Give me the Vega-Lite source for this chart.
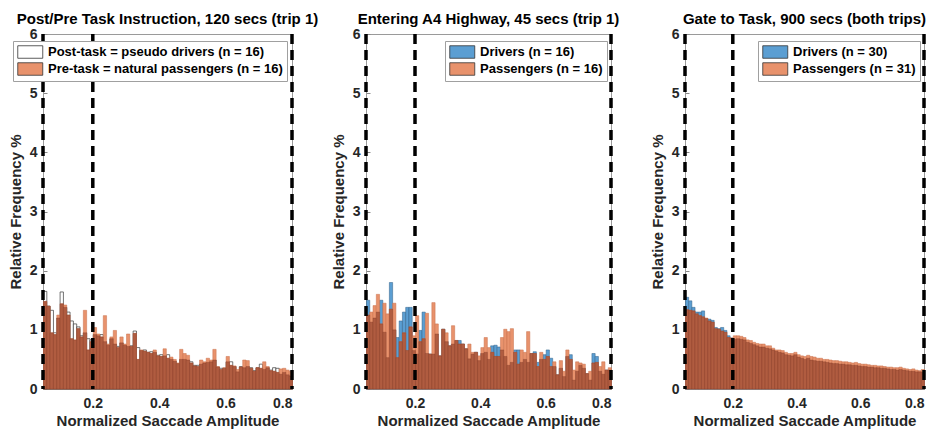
{
  "$schema": "https://vega.github.io/schema/vega-lite/v6.json",
  "background": "white",
  "padding": {"left": 7, "top": 11, "right": 0, "bottom": 0},
  "bounds": "flush",
  "spacing": 74,
  "config": {
    "font": "Liberation Sans",
    "view": {"stroke": "#9a9a9a", "strokeWidth": 1},
    "axis": {
      "labelFont": "Liberation Sans", "labelFontWeight": "bold", "labelFontSize": 14, "labelColor": "#262626",
      "titleFont": "Liberation Sans", "titleFontWeight": "bold", "titleFontSize": 15, "titleColor": "#262626",
      "domainColor": "#9a9a9a", "tickColor": "#8a8a8a", "tickSize": -4, "grid": false
    },
    "title": {"font": "Liberation Sans", "fontSize": 15, "fontWeight": "bold", "color": "#000000", "anchor": "middle", "offset": 6, "dy": 6},
    "legend": {
      "orient": "none", "title": null,
      "symbolType": "M-1,-1H3V1H-1Z", "symbolSize": 156.25,
      "symbolStrokeColor": "#333333", "symbolStrokeWidth": 0.8,
      "labelFont": "Liberation Sans", "labelFontSize": 13, "labelFontWeight": "bold", "labelColor": "#000000", "labelLimit": 400,
      "strokeColor": "#a0a0a0", "fillColor": "white", "padding": 4, "rowPadding": 1, "labelOffset": 17
    }
  },
  "resolve": {"scale": {"color": "independent"}, "legend": {"color": "independent"}},
  "datasets": {
    "p1": [
      {"x":0.05,"a":1.65,"b":1.48},{"x":0.06,"a":1.40,"b":1.40},{"x":0.07,"a":1.33,"b":0.95},{"x":0.08,"a":0.95,"b":0.92},{"x":0.09,"a":1.20,"b":1.25},
      {"x":0.10,"a":1.64,"b":1.44},{"x":0.11,"a":1.38,"b":1.42},{"x":0.12,"a":1.30,"b":1.25},{"x":0.13,"a":1.15,"b":0.85},{"x":0.14,"a":1.10,"b":0.83},
      {"x":0.15,"a":1.05,"b":1.02},{"x":0.16,"a":0.90,"b":0.88},{"x":0.17,"a":0.95,"b":1.33},{"x":0.18,"a":0.85,"b":0.66},{"x":0.19,"a":0.83,"b":0.80},
      {"x":0.20,"a":0.92,"b":1.04},{"x":0.21,"a":0.90,"b":0.93},{"x":0.22,"a":0.92,"b":0.88},{"x":0.23,"a":0.80,"b":1.24},{"x":0.24,"a":0.74,"b":0.76},
      {"x":0.25,"a":0.85,"b":0.88},{"x":0.26,"a":0.76,"b":0.99},{"x":0.27,"a":0.72,"b":0.70},{"x":0.28,"a":0.78,"b":0.88},{"x":0.29,"a":0.74,"b":0.76},
      {"x":0.30,"a":0.72,"b":0.93},{"x":0.31,"a":0.73,"b":0.72},{"x":0.32,"a":0.98,"b":0.94},{"x":0.33,"a":0.70,"b":0.50},{"x":0.34,"a":0.65,"b":0.66},
      {"x":0.35,"a":0.66,"b":0.64},{"x":0.36,"a":0.62,"b":0.62},{"x":0.37,"a":0.63,"b":0.60},{"x":0.38,"a":0.62,"b":0.66},{"x":0.39,"a":0.57,"b":0.56},
      {"x":0.40,"a":0.58,"b":0.55},{"x":0.41,"a":0.56,"b":0.68},{"x":0.42,"a":0.58,"b":0.52},{"x":0.43,"a":0.50,"b":0.54},{"x":0.44,"a":0.47,"b":0.50},
      {"x":0.45,"a":0.43,"b":0.44},{"x":0.46,"a":0.50,"b":0.67},{"x":0.47,"a":0.50,"b":0.60},{"x":0.48,"a":0.49,"b":0.57},{"x":0.49,"a":0.46,"b":0.44},
      {"x":0.50,"a":0.40,"b":0.39},{"x":0.51,"a":0.40,"b":0.38},{"x":0.52,"a":0.42,"b":0.49},{"x":0.53,"a":0.44,"b":0.46},{"x":0.54,"a":0.45,"b":0.52},
      {"x":0.55,"a":0.46,"b":0.49},{"x":0.56,"a":0.49,"b":0.67},{"x":0.57,"a":0.37,"b":0.38},{"x":0.58,"a":0.35,"b":0.33},{"x":0.59,"a":0.35,"b":0.36},
      {"x":0.60,"a":0.46,"b":0.55},{"x":0.61,"a":0.46,"b":0.40},{"x":0.62,"a":0.38,"b":0.39},{"x":0.63,"a":0.29,"b":0.33},{"x":0.64,"a":0.38,"b":0.37},
      {"x":0.65,"a":0.36,"b":0.49},{"x":0.66,"a":0.38,"b":0.48},{"x":0.67,"a":0.36,"b":0.35},{"x":0.68,"a":0.31,"b":0.30},{"x":0.69,"a":0.36,"b":0.36},
      {"x":0.70,"a":0.42,"b":0.35},{"x":0.71,"a":0.33,"b":0.46},{"x":0.72,"a":0.36,"b":0.38},{"x":0.73,"a":0.32,"b":0.31},{"x":0.74,"a":0.36,"b":0.30},
      {"x":0.75,"a":0.35,"b":0.28},{"x":0.76,"a":0.25,"b":0.34},{"x":0.77,"a":0.28,"b":0.35},{"x":0.78,"a":0.24,"b":0.32},{"x":0.79,"a":0.22,"b":0.30}
    ],
    "p2": [
      {"x":0.05,"a":1.50,"b":1.25},{"x":0.06,"a":1.13,"b":1.30},{"x":0.07,"a":1.20,"b":1.41},{"x":0.08,"a":1.30,"b":1.60},{"x":0.09,"a":1.50,"b":1.10},
      {"x":0.10,"a":0.96,"b":1.45},{"x":0.11,"a":0.53,"b":1.27},{"x":0.12,"a":1.80,"b":1.35},{"x":0.13,"a":1.00,"b":1.45},{"x":0.14,"a":0.87,"b":0.53},
      {"x":0.15,"a":1.15,"b":0.80},{"x":0.16,"a":1.30,"b":0.95},{"x":0.17,"a":1.38,"b":0.65},{"x":0.18,"a":1.38,"b":1.05},{"x":0.19,"a":0.65,"b":0.90},
      {"x":0.20,"a":0.59,"b":1.24},{"x":0.21,"a":0.99,"b":0.80},{"x":0.22,"a":1.30,"b":0.85},{"x":0.23,"a":0.60,"b":1.28},{"x":0.24,"a":0.59,"b":0.59},
      {"x":0.25,"a":0.59,"b":1.46},{"x":0.26,"a":0.93,"b":1.10},{"x":0.27,"a":0.56,"b":0.56},{"x":0.28,"a":1.01,"b":1.01},{"x":0.29,"a":0.80,"b":0.95},
      {"x":0.30,"a":0.73,"b":0.73},{"x":0.31,"a":0.76,"b":1.07},{"x":0.32,"a":0.82,"b":0.82},{"x":0.33,"a":0.82,"b":0.76},{"x":0.34,"a":0.76,"b":0.76},
      {"x":0.35,"a":0.68,"b":0.68},{"x":0.36,"a":0.51,"b":0.76},{"x":0.37,"a":0.59,"b":0.62},{"x":0.38,"a":0.62,"b":0.62},{"x":0.39,"a":0.48,"b":0.56},
      {"x":0.40,"a":0.60,"b":0.70},{"x":0.41,"a":0.62,"b":0.87},{"x":0.42,"a":0.50,"b":0.70},{"x":0.43,"a":0.73,"b":0.62},{"x":0.44,"a":0.74,"b":0.55},
      {"x":0.45,"a":0.71,"b":0.55},{"x":0.46,"a":0.66,"b":0.87},{"x":0.47,"a":0.55,"b":1.01},{"x":0.48,"a":0.40,"b":0.97},{"x":0.49,"a":0.45,"b":1.02},
      {"x":0.50,"a":0.66,"b":0.62},{"x":0.51,"a":0.66,"b":0.42},{"x":0.52,"a":0.45,"b":0.66},{"x":0.53,"a":0.50,"b":0.62},{"x":0.54,"a":0.45,"b":0.97},
      {"x":0.55,"a":0.60,"b":0.60},{"x":0.56,"a":0.63,"b":0.60},{"x":0.57,"a":0.45,"b":0.38},{"x":0.58,"a":0.50,"b":0.62},{"x":0.59,"a":0.58,"b":0.50},
      {"x":0.60,"a":0.66,"b":0.55},{"x":0.61,"a":0.52,"b":0.38},{"x":0.62,"a":0.38,"b":0.46},{"x":0.63,"a":0.24,"b":0.24},{"x":0.64,"a":0.35,"b":0.48},
      {"x":0.65,"a":0.21,"b":0.30},{"x":0.66,"a":0.55,"b":0.66},{"x":0.67,"a":0.58,"b":0.50},{"x":0.68,"a":0.15,"b":0.32},{"x":0.69,"a":0.30,"b":0.46},
      {"x":0.70,"a":0.40,"b":0.44},{"x":0.71,"a":0.35,"b":0.42},{"x":0.72,"a":0.26,"b":0.26},{"x":0.73,"a":0.15,"b":0.30},{"x":0.74,"a":0.60,"b":0.44},
      {"x":0.75,"a":0.55,"b":0.45},{"x":0.76,"a":0.30,"b":0.38},{"x":0.77,"a":0.25,"b":0.46},{"x":0.78,"a":0.32,"b":0.32},{"x":0.79,"a":0.32,"b":0.36}
    ],
    "p3": [
      {"x":0.05,"a":1.55,"b":1.34},{"x":0.06,"a":1.49,"b":1.33},{"x":0.07,"a":1.38,"b":1.32},{"x":0.08,"a":1.30,"b":1.27},{"x":0.09,"a":1.30,"b":1.24},
      {"x":0.10,"a":1.32,"b":1.22},{"x":0.11,"a":1.19,"b":1.20},{"x":0.12,"a":1.18,"b":1.15},{"x":0.13,"a":1.16,"b":1.13},{"x":0.14,"a":1.04,"b":1.02},
      {"x":0.15,"a":1.02,"b":1.01},{"x":0.16,"a":1.04,"b":0.98},{"x":0.17,"a":0.99,"b":0.96},{"x":0.18,"a":0.90,"b":0.87},{"x":0.19,"a":0.86,"b":0.86},
      {"x":0.20,"a":0.84,"b":0.90},{"x":0.21,"a":0.85,"b":0.90},{"x":0.22,"a":0.84,"b":0.89},{"x":0.23,"a":0.83,"b":0.87},{"x":0.24,"a":0.79,"b":0.83},
      {"x":0.25,"a":0.77,"b":0.82},{"x":0.26,"a":0.75,"b":0.79},{"x":0.27,"a":0.73,"b":0.77},{"x":0.28,"a":0.71,"b":0.76},{"x":0.29,"a":0.71,"b":0.76},
      {"x":0.30,"a":0.69,"b":0.73},{"x":0.31,"a":0.68,"b":0.73},{"x":0.32,"a":0.66,"b":0.69},{"x":0.33,"a":0.64,"b":0.66},{"x":0.34,"a":0.62,"b":0.66},
      {"x":0.35,"a":0.61,"b":0.65},{"x":0.36,"a":0.58,"b":0.62},{"x":0.37,"a":0.57,"b":0.60},{"x":0.38,"a":0.56,"b":0.60},{"x":0.39,"a":0.58,"b":0.62},
      {"x":0.40,"a":0.54,"b":0.58},{"x":0.41,"a":0.52,"b":0.56},{"x":0.42,"a":0.50,"b":0.55},{"x":0.43,"a":0.52,"b":0.57},{"x":0.44,"a":0.49,"b":0.55},
      {"x":0.45,"a":0.48,"b":0.54},{"x":0.46,"a":0.47,"b":0.52},{"x":0.47,"a":0.47,"b":0.52},{"x":0.48,"a":0.46,"b":0.50},{"x":0.49,"a":0.45,"b":0.50},
      {"x":0.50,"a":0.44,"b":0.49},{"x":0.51,"a":0.43,"b":0.48},{"x":0.52,"a":0.43,"b":0.48},{"x":0.53,"a":0.42,"b":0.47},{"x":0.54,"a":0.42,"b":0.46},
      {"x":0.55,"a":0.41,"b":0.46},{"x":0.56,"a":0.41,"b":0.45},{"x":0.57,"a":0.40,"b":0.44},{"x":0.58,"a":0.40,"b":0.45},{"x":0.59,"a":0.39,"b":0.43},
      {"x":0.60,"a":0.38,"b":0.42},{"x":0.61,"a":0.38,"b":0.42},{"x":0.62,"a":0.37,"b":0.41},{"x":0.63,"a":0.37,"b":0.40},{"x":0.64,"a":0.36,"b":0.40},
      {"x":0.65,"a":0.36,"b":0.39},{"x":0.66,"a":0.35,"b":0.39},{"x":0.67,"a":0.35,"b":0.38},{"x":0.68,"a":0.34,"b":0.37},{"x":0.69,"a":0.33,"b":0.37},
      {"x":0.70,"a":0.33,"b":0.36},{"x":0.71,"a":0.32,"b":0.36},{"x":0.72,"a":0.33,"b":0.37},{"x":0.73,"a":0.32,"b":0.35},{"x":0.74,"a":0.31,"b":0.34},
      {"x":0.75,"a":0.30,"b":0.33},{"x":0.76,"a":0.30,"b":0.34},{"x":0.77,"a":0.29,"b":0.32},{"x":0.78,"a":0.29,"b":0.31},{"x":0.79,"a":0.28,"b":0.33}
    ]
  },
  "hconcat": [
    {
      "width": 249, "height": 355,
      "title": "Post/Pre Task Instruction, 120 secs (trip 1)",
      "data": {"name": "p1"},
      "encoding": {
        "x": {"field": "x", "type": "quantitative", "bin": {"binned": true, "step": 0.01}, "title": "Normalized Saccade Amplitude",
              "scale": {"domain": [0.05, 0.8], "nice": false, "zero": false},
              "axis": {"values": [0.2, 0.4, 0.6, 0.8], "format": ".1f", "labelPadding": 11, "titlePadding": 3}}
      },
      "layer": [
        {"mark": {"type": "bar", "binSpacing": 0, "stroke": "#3a3a3a", "strokeWidth": 0.7},
         "encoding": {
           "y": {"field": "a", "type": "quantitative", "title": "Relative Frequency %", "scale": {"domain": [0, 6], "nice": false},
                 "axis": {"values": [0, 1, 2, 3, 4, 5, 6], "format": "d", "labelPadding": 10, "titlePadding": 6}},
           "color": {"datum": "Post-task = pseudo drivers (n = 16)",
                     "scale": {"domain": ["Post-task = pseudo drivers (n = 16)", "Pre-task = natural passengers (n = 16)"], "range": ["#ffffff", "#e8926c"]},
                     "legend": {"legendX": -30, "legendY": 7}}
         }},
        {"mark": {"type": "bar", "binSpacing": 0, "stroke": "#c9704c", "strokeWidth": 0.5},
         "encoding": {
           "y": {"field": "b", "type": "quantitative", "title": "Relative Frequency %"},
           "color": {"datum": "Pre-task = natural passengers (n = 16)"}
         }},
        {"transform": [{"fold": ["a", "b"]}, {"aggregate": [{"op": "min", "field": "value", "as": "m"}], "groupby": ["x"]}],
         "mark": {"type": "bar", "binSpacing": 0, "color": "#b05c40", "stroke": "#7a3422", "strokeWidth": 0.5, "strokeOpacity": 0.6},
         "encoding": {"y": {"field": "m", "type": "quantitative", "title": "Relative Frequency %"}}},
        {"data": {"values": [{"x": 0.05}, {"x": 0.2}, {"x": 0.8}]},
         "mark": {"type": "rule", "color": "#000000", "strokeWidth": 3.5, "strokeDash": [10, 6]},
         "encoding": {"x": {"field": "x", "type": "quantitative"}}}
      ]
    },
    {
      "width": 245, "height": 355,
      "title": "Entering A4 Highway, 45 secs (trip 1)",
      "data": {"name": "p2"},
      "encoding": {
        "x": {"field": "x", "type": "quantitative", "bin": {"binned": true, "step": 0.01}, "title": "Normalized Saccade Amplitude",
              "scale": {"domain": [0.05, 0.8], "nice": false, "zero": false},
              "axis": {"values": [0.2, 0.4, 0.6, 0.8], "format": ".1f", "labelPadding": 11, "titlePadding": 3}}
      },
      "layer": [
        {"mark": {"type": "bar", "binSpacing": 0, "stroke": "#2f5f86", "strokeWidth": 0.5},
         "encoding": {
           "y": {"field": "a", "type": "quantitative", "title": "Relative Frequency %", "scale": {"domain": [0, 6], "nice": false},
                 "axis": {"values": [0, 1, 2, 3, 4, 5, 6], "format": "d", "labelPadding": 10, "titlePadding": 6}},
           "color": {"datum": "Drivers (n = 16)",
                     "scale": {"domain": ["Drivers (n = 16)", "Passengers (n = 16)"], "range": ["#5b9ed2", "#e8926c"]},
                     "legend": {"legendX": 79, "legendY": 7}}
         }},
        {"mark": {"type": "bar", "binSpacing": 0, "stroke": "#c9704c", "strokeWidth": 0.5},
         "encoding": {
           "y": {"field": "b", "type": "quantitative", "title": "Relative Frequency %"},
           "color": {"datum": "Passengers (n = 16)"}
         }},
        {"transform": [{"fold": ["a", "b"]}, {"aggregate": [{"op": "min", "field": "value", "as": "m"}], "groupby": ["x"]}],
         "mark": {"type": "bar", "binSpacing": 0, "color": "#b05c40", "stroke": "#7a3422", "strokeWidth": 0.5, "strokeOpacity": 0.6},
         "encoding": {"y": {"field": "m", "type": "quantitative", "title": "Relative Frequency %"}}},
        {"data": {"values": [{"x": 0.05}, {"x": 0.2}, {"x": 0.8}]},
         "mark": {"type": "rule", "color": "#000000", "strokeWidth": 3.5, "strokeDash": [10, 6]},
         "encoding": {"x": {"field": "x", "type": "quantitative"}}}
      ]
    },
    {
      "width": 239, "height": 355,
      "title": "Gate to Task, 900 secs (both trips)",
      "data": {"name": "p3"},
      "encoding": {
        "x": {"field": "x", "type": "quantitative", "bin": {"binned": true, "step": 0.01}, "title": "Normalized Saccade Amplitude",
              "scale": {"domain": [0.05, 0.8], "nice": false, "zero": false},
              "axis": {"values": [0.2, 0.4, 0.6, 0.8], "format": ".1f", "labelPadding": 11, "titlePadding": 3}}
      },
      "layer": [
        {"mark": {"type": "bar", "binSpacing": 0, "stroke": "#2f5f86", "strokeWidth": 0.5},
         "encoding": {
           "y": {"field": "a", "type": "quantitative", "title": "Relative Frequency %", "scale": {"domain": [0, 6], "nice": false},
                 "axis": {"values": [0, 1, 2, 3, 4, 5, 6], "format": "d", "labelPadding": 10, "titlePadding": 6}},
           "color": {"datum": "Drivers (n = 30)",
                     "scale": {"domain": ["Drivers (n = 30)", "Passengers (n = 31)"], "range": ["#5b9ed2", "#e8926c"]},
                     "legend": {"legendX": 73, "legendY": 7}}
         }},
        {"mark": {"type": "bar", "binSpacing": 0, "stroke": "#c9704c", "strokeWidth": 0.5},
         "encoding": {
           "y": {"field": "b", "type": "quantitative", "title": "Relative Frequency %"},
           "color": {"datum": "Passengers (n = 31)"}
         }},
        {"transform": [{"fold": ["a", "b"]}, {"aggregate": [{"op": "min", "field": "value", "as": "m"}], "groupby": ["x"]}],
         "mark": {"type": "bar", "binSpacing": 0, "color": "#b05c40", "stroke": "#7a3422", "strokeWidth": 0.5, "strokeOpacity": 0.6},
         "encoding": {"y": {"field": "m", "type": "quantitative", "title": "Relative Frequency %"}}},
        {"data": {"values": [{"x": 0.05}, {"x": 0.2}, {"x": 0.8}]},
         "mark": {"type": "rule", "color": "#000000", "strokeWidth": 3.5, "strokeDash": [10, 6]},
         "encoding": {"x": {"field": "x", "type": "quantitative"}}}
      ]
    }
  ]
}
